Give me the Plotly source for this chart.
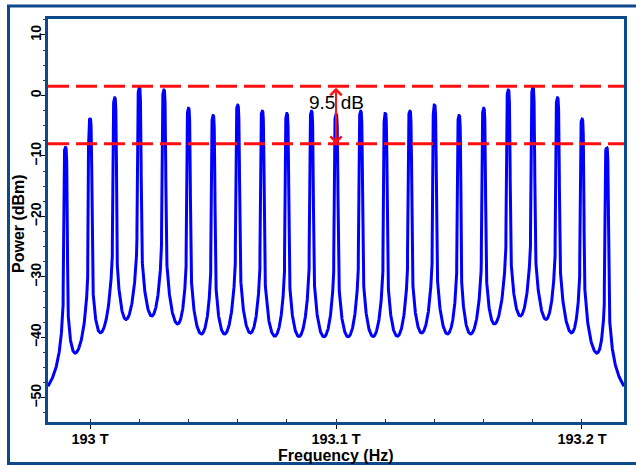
import numpy as np
import plotly.graph_objects as go

# ---------------- data ----------------
peak_freq_thz = [192.99, 193.00, 193.01, 193.02, 193.03, 193.04, 193.05, 193.06,
                 193.07, 193.08, 193.09, 193.10, 193.11, 193.12, 193.13, 193.14,
                 193.15, 193.16, 193.17, 193.18, 193.19, 193.20, 193.21]
peak_power_dbm = [-8.6, -3.9, -0.4, 1.3, 0.9, -2.1, -3.3, -1.6,
                  -2.6, -3.0, -2.6, -3.1, -2.6, -3.0, -2.6, -1.6,
                  -3.3, -2.1, 0.9, 1.3, -0.4, -3.9, -8.6]
linewidth_ghz = 0.0446            # Lorentzian wing parameter of each comb line
core_halfwidth_ghz = 0.6          # resolution-limited flat core of each line

level_high_dbm = 1.5              # upper dashed reference line
level_low_dbm = -8.0              # lower dashed reference line
marker_freq_thz = 193.1           # where the 9.5 dB arrow is drawn
marker_label = "9.5 dB"
marker_label_dbm = -1.15

x_tick_thz = [193.0, 193.1, 193.2]
x_tick_text = ["193 T", "193.1 T", "193.2 T"]
y_tick_vals = [-50, -40, -30, -20, -10, 0, 10]
x_title = "Frequency (Hz)"
y_title = "Power (dBm)"

x_range_thz = [192.98292, 193.21708]
y_range = [-54.0, 12.64]

# ---------------- spectrum from the comb lines ----------------
f_pk = np.array(peak_freq_thz) * 1e12
a_pk = 10 ** (np.array(peak_power_dbm) / 10.0)
gam = linewidth_ghz * 1e9
wc = core_halfwidth_ghz * 1e9

f = list(np.linspace(x_range_thz[0] * 1e12, x_range_thz[1] * 1e12, 3000))
offs = np.concatenate([np.linspace(0, 2.5 * wc, 60), gam * np.logspace(1, 2.6, 40)])
for fp in f_pk:
    f.extend(fp + offs)
    f.extend(fp - offs)
f = np.unique(np.array(f))
f = f[(f >= x_range_thz[0] * 1e12) & (f <= x_range_thz[1] * 1e12)]
p_lin = np.zeros_like(f)
for fp, a in zip(f_pk, a_pk):
    d = f - fp
    core = np.exp(-(d / wc) ** 4)
    wing = gam ** 2 / (gam ** 2 + d ** 2)
    p_lin += a * np.maximum(core, np.where(np.abs(d) > wc, wing, 0.0))
p_dbm = 10 * np.log10(p_lin)

# ---------------- figure ----------------
W, H = 636, 466
L, R, T, B = 48, 624, 19, 422
frame = "#0d4a8c"
red = "#ff1010"
font_fam = "Liberation Sans, Arial"

fig = go.Figure()
fig.add_trace(go.Scatter(x=f, y=p_dbm, mode="lines",
                         line=dict(color="#0000ff", width=3),
                         hoverinfo="skip", showlegend=False))

def px_to_paper_x(px):
    return (px - L) / (R - L)

def px_to_paper_y(py):
    return (B - py) / (B - T)

shapes = []
for lvl in (level_high_dbm, level_low_dbm):
    shapes.append(dict(type="line", xref="paper", yref="y", x0=0, x1=1, y0=lvl, y1=lvl,
                       line=dict(color=red, width=3, dash="21px,7px"), layer="above"))
# outer frame of the picture
shapes.append(dict(type="rect", xref="paper", yref="paper",
                   x0=px_to_paper_x(8.5), x1=px_to_paper_x(650),
                   y0=px_to_paper_y(463.5), y1=px_to_paper_y(6),
                   line=dict(color=frame, width=3), fillcolor="rgba(0,0,0,0)"))

annotations = [
    dict(x=marker_freq_thz * 1e12, y=level_low_dbm, ax=marker_freq_thz * 1e12, ay=level_high_dbm,
         xref="x", yref="y", axref="x", ayref="y", text="", showarrow=True,
         arrowhead=4, arrowsize=1.1, arrowwidth=2, arrowcolor=red,
         arrowside="end+start", standoff=0, startstandoff=0),
    dict(x=marker_freq_thz * 1e12, y=marker_label_dbm, xref="x", yref="y", text=marker_label,
         showarrow=False, font=dict(family=font_fam, size=19, color="black"),
         xanchor="center", yanchor="middle"),
    dict(x=0.5, y=px_to_paper_y(456), xref="paper", yref="paper", text=x_title,
         showarrow=False, xanchor="center", yanchor="middle",
         font=dict(family=font_fam, size=16, color="black", weight="bold")),
    dict(x=px_to_paper_x(18), y=px_to_paper_y(224), xref="paper", yref="paper", text=y_title,
         showarrow=False, xanchor="center", yanchor="middle", textangle=-90,
         font=dict(family=font_fam, size=16, color="black", weight="bold")),
]

fig.update_layout(
    width=W, height=H,
    margin=dict(l=L, r=W - R, t=T, b=H - B, autoexpand=False),
    paper_bgcolor="white", plot_bgcolor="white",
    shapes=shapes, annotations=annotations,
    showlegend=False,
)
fig.update_xaxes(
    automargin=False,
    range=[x_range_thz[0] * 1e12, x_range_thz[1] * 1e12],
    tickvals=[v * 1e12 for v in x_tick_thz], ticktext=x_tick_text,
    ticks="outside", ticklen=4, tickcolor="black", tickwidth=1,
    minor=dict(dtick=2e10, tick0=1.93e14, ticks="inside", ticklen=3, tickcolor="#333", tickwidth=1),
    showline=True, mirror=True, linecolor=frame, linewidth=2.5,
    showgrid=False, zeroline=False, ticklabelstandoff=-2,
    tickfont=dict(family=font_fam, size=14.5, color="black", weight="bold"),
)
fig.update_yaxes(
    automargin=False,
    range=y_range, tickvals=y_tick_vals, tickangle=-90,
    ticks="outside", ticklen=4, tickcolor="black", tickwidth=1,
    minor=dict(dtick=2.5, tick0=0, ticks="outside", ticklen=2, tickcolor="#333", tickwidth=1),
    showline=True, mirror=True, linecolor=frame, linewidth=2.5,
    showgrid=False, zeroline=False, ticklabelstandoff=-5,
    tickfont=dict(family=font_fam, size=14, color="black", weight="bold"),
)

fig.write_html("out.html")
